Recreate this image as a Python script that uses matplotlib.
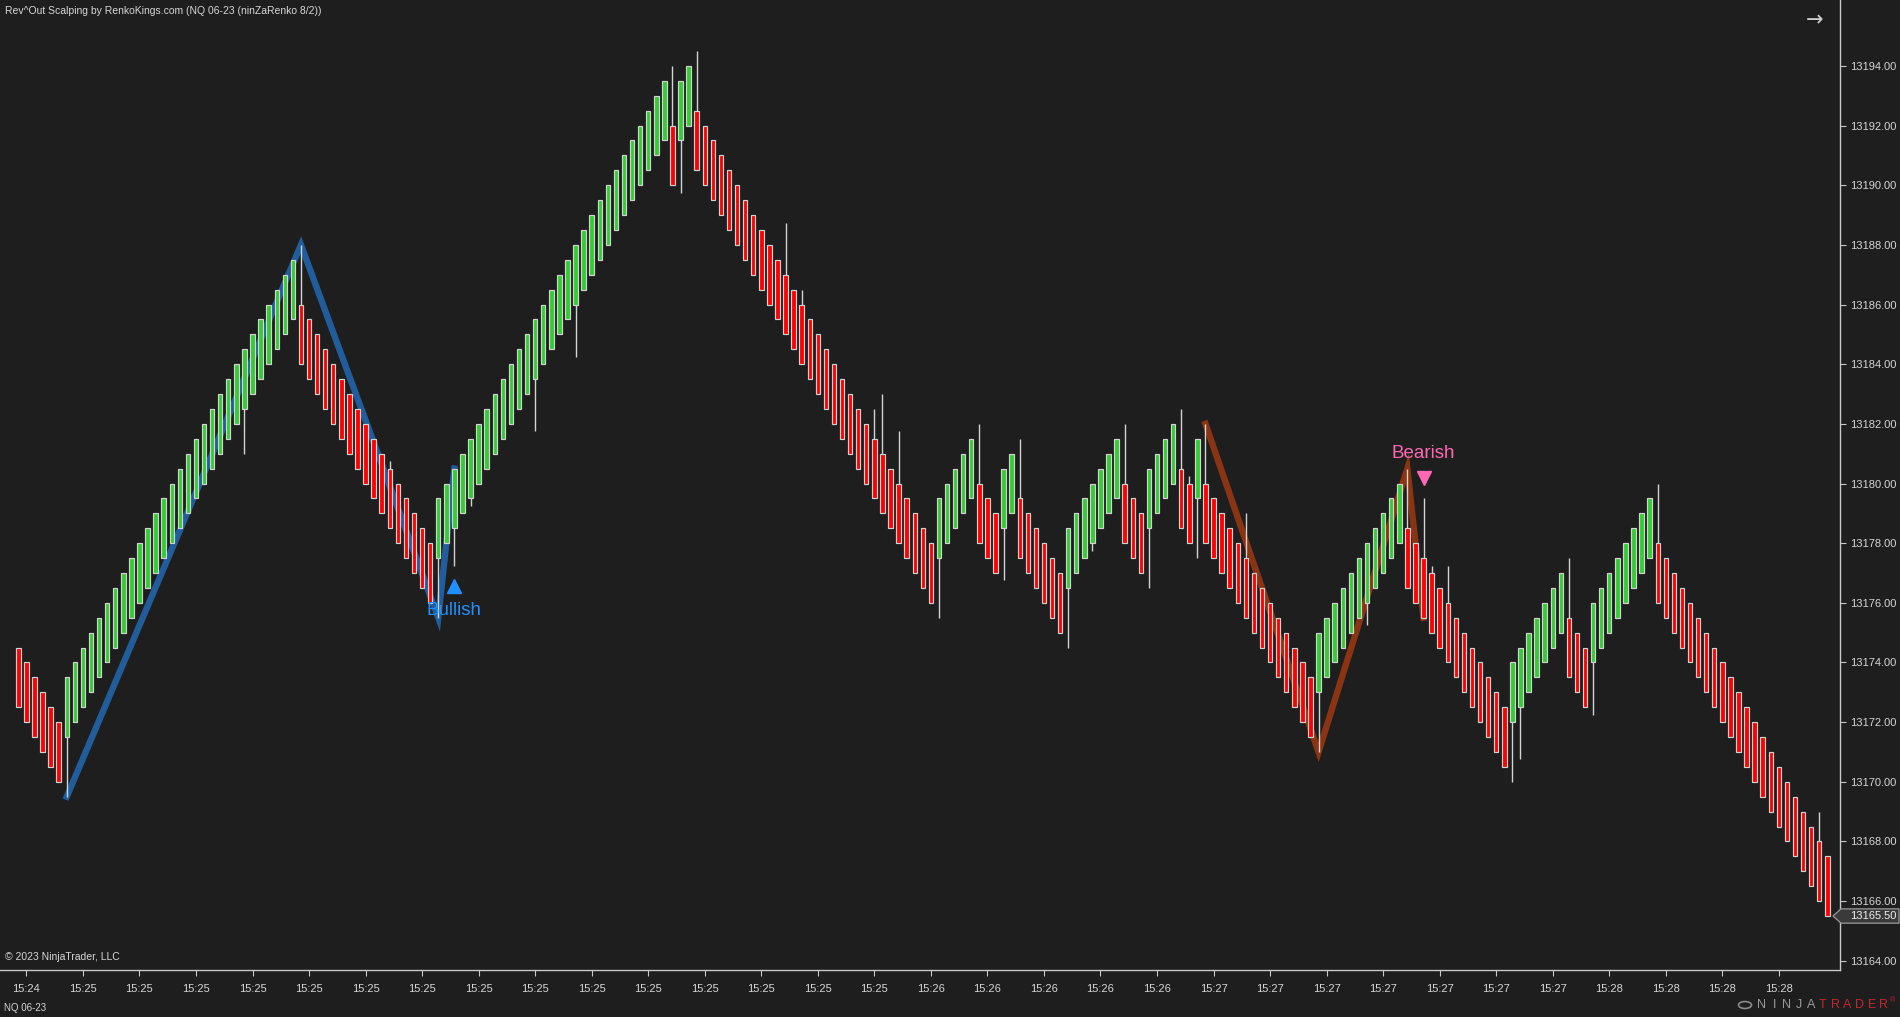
import matplotlib
matplotlib.use("Agg")
import matplotlib.pyplot as plt
from matplotlib.transforms import blended_transform_factory
from matplotlib.patches import Polygon, Circle

plt.rcParams['font.family'] = ['Liberation Sans', 'DejaVu Sans']

# ---------------- data ----------------
closes = [
    13172.5, 13172, 13171.5, 13171, 13170.5, 13170,
    13173.5, 13174, 13174.5, 13175, 13175.5, 13176, 13176.5, 13177, 13177.5, 13178,
    13178.5, 13179, 13179.5, 13180, 13180.5, 13181, 13181.5, 13182, 13182.5, 13183,
    13183.5, 13184, 13184.5, 13185, 13185.5, 13186, 13186.5, 13187, 13187.5,
    13184, 13183.5, 13183, 13182.5, 13182, 13181.5, 13181, 13180.5, 13180, 13179.5,
    13179, 13178.5, 13178, 13177.5, 13177, 13176.5, 13176,
    13179.5, 13180, 13180.5, 13181, 13181.5, 13182, 13182.5, 13183, 13183.5, 13184,
    13184.5, 13185, 13185.5, 13186, 13186.5, 13187, 13187.5, 13188, 13188.5, 13189,
    13189.5, 13190, 13190.5, 13191, 13191.5, 13192, 13192.5, 13193, 13193.5,
    13190, 13193.5, 13194,
    13190.5, 13190, 13189.5, 13189, 13188.5, 13188, 13187.5, 13187, 13186.5, 13186,
    13185.5, 13185, 13184.5, 13184, 13183.5, 13183, 13182.5, 13182, 13181.5, 13181,
    13180.5, 13180, 13179.5, 13179, 13178.5, 13178, 13177.5, 13177, 13176.5, 13176,
    13179.5, 13180, 13180.5, 13181, 13181.5,
    13178, 13177.5, 13177,
    13180.5, 13181,
    13177.5, 13177, 13176.5, 13176, 13175.5, 13175,
    13178.5, 13179, 13179.5, 13180, 13180.5, 13181, 13181.5,
    13178, 13177.5, 13177,
    13180.5, 13181, 13181.5, 13182,
    13178.5, 13178,
    13181.5,
    13178, 13177.5, 13177, 13176.5, 13176, 13175.5, 13175, 13174.5, 13174, 13173.5,
    13173, 13172.5, 13172, 13171.5,
    13175, 13175.5, 13176, 13176.5, 13177, 13177.5, 13178, 13178.5, 13179, 13179.5, 13180,
    13176.5, 13176, 13175.5, 13175, 13174.5, 13174, 13173.5, 13173, 13172.5, 13172,
    13171.5, 13171, 13170.5,
    13174, 13174.5, 13175, 13175.5, 13176, 13176.5, 13177,
    13173.5, 13173, 13172.5,
    13176, 13176.5, 13177, 13177.5, 13178, 13178.5, 13179, 13179.5,
    13176, 13175.5, 13175, 13174.5, 13174, 13173.5, 13173, 13172.5, 13172, 13171.5,
    13171, 13170.5, 13170, 13169.5, 13169, 13168.5, 13168, 13167.5, 13167, 13166.5,
    13166, 13165.5,
]

opens = [
    13174.5, 13174, 13173.5, 13173, 13172.5, 13172,
    13171.5, 13172, 13172.5, 13173, 13173.5, 13174, 13174.5, 13175, 13175.5, 13176,
    13176.5, 13177, 13177.5, 13178, 13178.5, 13179, 13179.5, 13180, 13180.5, 13181,
    13181.5, 13182, 13182.5, 13183, 13183.5, 13184, 13184.5, 13185, 13185.5,
    13186, 13185.5, 13185, 13184.5, 13184, 13183.5, 13183, 13182.5, 13182, 13181.5,
    13181, 13180.5, 13180, 13179.5, 13179, 13178.5, 13178,
    13177.5, 13178, 13178.5, 13179, 13179.5, 13180, 13180.5, 13181, 13181.5, 13182,
    13182.5, 13183, 13183.5, 13184, 13184.5, 13185, 13185.5, 13186, 13186.5, 13187,
    13187.5, 13188, 13188.5, 13189, 13189.5, 13190, 13190.5, 13191, 13191.5,
    13192, 13191.5, 13192,
    13192.5, 13192, 13191.5, 13191, 13190.5, 13190, 13189.5, 13189, 13188.5, 13188,
    13187.5, 13187, 13186.5, 13186, 13185.5, 13185, 13184.5, 13184, 13183.5, 13183,
    13182.5, 13182, 13181.5, 13181, 13180.5, 13180, 13179.5, 13179, 13178.5, 13178,
    13177.5, 13178, 13178.5, 13179, 13179.5,
    13180, 13179.5, 13179,
    13178.5, 13179,
    13179.5, 13179, 13178.5, 13178, 13177.5, 13177,
    13176.5, 13177, 13177.5, 13178, 13178.5, 13179, 13179.5,
    13180, 13179.5, 13179,
    13178.5, 13179, 13179.5, 13180,
    13180.5, 13180,
    13179.5,
    13180, 13179.5, 13179, 13178.5, 13178, 13177.5, 13177, 13176.5, 13176, 13175.5,
    13175, 13174.5, 13174, 13173.5,
    13173, 13173.5, 13174, 13174.5, 13175, 13175.5, 13176, 13176.5, 13177, 13177.5, 13178,
    13178.5, 13178, 13177.5, 13177, 13176.5, 13176, 13175.5, 13175, 13174.5, 13174,
    13173.5, 13173, 13172.5,
    13172, 13172.5, 13173, 13173.5, 13174, 13174.5, 13175,
    13175.5, 13175, 13174.5,
    13174, 13174.5, 13175, 13175.5, 13176, 13176.5, 13177, 13177.5,
    13178, 13177.5, 13177, 13176.5, 13176, 13175.5, 13175, 13174.5, 13174, 13173.5,
    13173, 13172.5, 13172, 13171.5, 13171, 13170.5, 13170, 13169.5, 13169, 13168.5,
    13168, 13167.5,
]

# bars whose high/low wick sticks out of the brick, and the wick's extreme price
wick_bars = [6, 28, 35, 46, 52, 54, 56, 64, 69, 81, 82, 84, 95, 97, 106, 107, 109,
             114, 119, 122, 124, 130, 133, 137, 140, 144, 145, 146, 147, 152, 161,
             167, 172, 174, 175, 177, 185, 186, 192, 195, 203, 223]
wick_ends = [13169.5, 13181.0, 13188.0, 13180.75, 13175.5, 13177.25, 13179.25,
             13181.75, 13184.25, 13194.0, 13189.75, 13194.5, 13188.75, 13186.5,
             13182.5, 13183.0, 13181.75, 13175.5, 13182.0, 13176.75, 13181.5,
             13174.5, 13177.75, 13182.0, 13176.5, 13182.5, 13180.25, 13177.5,
             13182.0, 13179.0, 13171.0, 13175.25, 13180.5, 13179.5, 13177.25,
             13177.25, 13170.0, 13170.75, 13177.5, 13172.25, 13180.0, 13169.0]

# Rev^Out zig-zag swings
bull_swing_bars = [6, 35, 52, 54]
bull_swing_prices = [13169.5, 13188.0, 13175.5, 13180.5]
bear_swing_bars = [147, 161, 172, 174]
bear_swing_prices = [13182.0, 13171.0, 13180.5, 13175.5]

# signals
signal_bars = [54, 174]
signal_labels = ["Bullish", "Bearish"]
signal_marker_prices = [13176.55, 13180.2]
signal_text_prices = [13175.75, 13181.0]

# x axis ticks (bar index -> time label)
xtick_bars = [1, 8, 15, 22, 29, 36, 43, 50, 57, 64, 71, 78, 85, 92, 99, 106, 113,
              120, 127, 134, 141, 148, 155, 162, 169, 176, 183, 190, 197, 204, 211, 218]
xtick_labels = ["15:24"] + ["15:25"] * 15 + ["15:26"] * 5 + ["15:27"] * 7 + ["15:28"] * 4

ytick_values = [13164, 13166, 13168, 13170, 13172, 13174, 13176, 13178, 13180,
                13182, 13184, 13186, 13188, 13190, 13192, 13194]
last_price = 13165.50

title = "Rev^Out Scalping by RenkoKings.com (NQ 06-23 (ninZaRenko 8/2))"

# ---------------- styles ----------------
BG = '#1e1e1e'
UP = '#32cd32'
DN = '#ff0000'
OUTLINE = '#d3d3d3'
TXT = '#d6d6d6'
W, H = 1900, 1017

fig = plt.figure(figsize=(W / 100, H / 100), dpi=100, facecolor=BG)
ax = fig.add_axes([0, 47 / H, 1840 / W, 970 / H], facecolor=BG)

n = len(closes)
xs = list(range(n))
bottoms = [min(o, c) for o, c in zip(opens, closes)]
heights = [abs(c - o) for o, c in zip(opens, closes)]
colors = [UP if c > o else DN for o, c in zip(opens, closes)]

# wicks
mids = [(opens[i] + closes[i]) / 2 for i in wick_bars]
ax.vlines(wick_bars, wick_ends, mids, colors=OUTLINE, linewidth=1.0, zorder=2)

# zig-zag lines
ax.plot(bull_swing_bars, bull_swing_prices, color='#225d9b', lw=4.6, zorder=1,
        solid_joinstyle='miter')
ax.plot(bear_swing_bars, bear_swing_prices, color='#8a3414', lw=4.6, zorder=1,
        solid_joinstyle='miter')

# bricks
ax.bar(xs, heights, bottom=bottoms, width=0.55, color=colors, edgecolor=OUTLINE,
       linewidth=0.85, zorder=3)

# signals
sig_colors = ['#1e90ff', '#ff69b4']
sig_markers = ['^', 'v']
for b, lab, mp, tp, col, mk in zip(signal_bars, signal_labels, signal_marker_prices,
                                   signal_text_prices, sig_colors, sig_markers):
    ax.plot([b], [mp], marker=mk, color=col, markersize=10, linestyle='none', zorder=5)
    ax.text(b, tp, lab, color=col, fontsize=13.5, ha='center', va='center', zorder=5)

# limits
ax.set_xlim(-2.266, 225.57)
ax.set_ylim(13163.69, 13196.21)

# axes styling
for s in ['left', 'top']:
    ax.spines[s].set_visible(False)
for s in ['right', 'bottom']:
    ax.spines[s].set_color('#c8c8c8')
    ax.spines[s].set_linewidth(1.0)

ax.yaxis.tick_right()
ax.set_yticks(ytick_values)
ax.set_yticklabels(["%.2f" % v for v in ytick_values])
ax.tick_params(axis='y', colors='#c8c8c8', labelcolor=TXT, labelsize=8, length=4.5,
               width=0.8, pad=3)
ax.set_xticks(xtick_bars)
ax.set_xticklabels(xtick_labels)
ax.tick_params(axis='x', colors='#c8c8c8', labelcolor=TXT, labelsize=8, length=4,
               width=0.8, pad=6)

# last price marker
tr = blended_transform_factory(fig.transFigure, ax.transData)
hh = 0.24
poly = Polygon([(1833 / W, last_price), (1841 / W, last_price + hh),
                (1899 / W, last_price + hh), (1899 / W, last_price - hh),
                (1841 / W, last_price - hh)], closed=True, transform=tr,
               facecolor='#3a3a3a', edgecolor='#9a9a9a', linewidth=0.9,
               clip_on=False, zorder=10)
fig.add_artist(poly)
fig.text(1850 / W, last_price, "%.2f" % last_price, transform=tr, color='#f0f0f0',
         fontsize=8, va='center', ha='left', zorder=11)

# texts
fig.text(5 / W, 1 - 11 / H, title, color=TXT, fontsize=7.5, va='center', ha='left')
fig.text(5 / W, 1 - 957 / H, "\u00a9 2023 NinjaTrader, LLC", color=TXT, fontsize=7.5,
         va='center', ha='left')
fig.text(4 / W, 1 - 1008 / H, "NQ 06-23", color=TXT, fontsize=7, va='center', ha='left')
fig.text(1815 / W, 1 - 20 / H, "\u2192", color='#d0d0d0', fontsize=15, va='center',
         ha='center', family='DejaVu Sans')

# NinjaTrader logo
logo_y = 1 - 1005 / H
logo_letters = "NINJATRADER"
for k, ch in enumerate(logo_letters):
    col = '#9a9a9a' if k < 5 else '#c4262e'
    fig.text((1762 + k * 12.2) / W, logo_y, ch, color=col, fontsize=9,
             va='center', ha='center')
fig.text(1893 / W, 1 - 1001 / H, "\u00ae", color='#c4262e', fontsize=5,
         va='center', ha='center')
fig.add_artist(Circle((1745 / W, logo_y), 6.5 / W, transform=fig.transFigure,
                      facecolor='none', edgecolor='#8a8a8a', linewidth=1.2))

fig.savefig("out.png", dpi=100, facecolor=BG)
